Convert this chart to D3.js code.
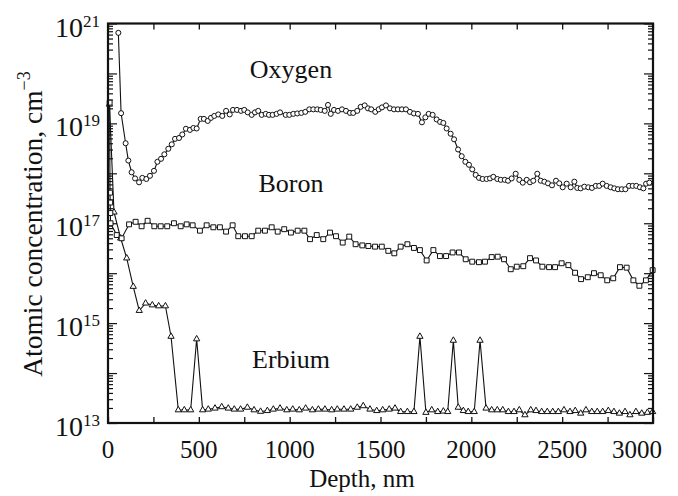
<!DOCTYPE html>
<html>
<head>
<meta charset="utf-8">
<script src="https://cdn.jsdelivr.net/npm/d3@7"></script>
<style>
  body { margin: 0; background: #fff; }
  text { font-family: "Liberation Serif", "Times New Roman", serif; fill: #111; }
</style>
</head>
<body>
<svg id="chart" width="678" height="496"></svg>
<script>
// depth (nm), concentration (cm^-3)
const oxygen = [
  [57, 6.5e20], [72, 1.6e19], [97, 4.0e18], [112, 1.8e18], [130, 1.05e18], [149, 7.9e17],
  [171, 6.6e17], [189, 8.1e17], [211, 7.7e17], [231, 8.9e17], [253, 1.12e18], [272, 1.7e18],
  [292, 1.95e18], [310, 2.4e18], [332, 3.1e18], [351, 3.8e18], [369, 4.9e18], [391, 5.1e18],
  [409, 6.0e18], [429, 7.8e18], [451, 7.4e18], [470, 8.1e18], [488, 7.9e18], [510, 1.23e19],
  [528, 1.23e19], [549, 1.12e19], [567, 1.29e19], [585, 1.41e19], [607, 1.51e19], [629, 1.41e19],
  [650, 1.78e19], [670, 1.51e19], [688, 1.86e19], [710, 1.86e19], [732, 1.78e19], [750, 1.86e19],
  [769, 1.66e19], [791, 1.48e19], [809, 1.66e19], [827, 1.78e19], [846, 1.48e19], [868, 1.55e19],
  [886, 1.48e19], [906, 1.48e19], [928, 1.55e19], [947, 1.66e19], [978, 1.48e19], [998, 1.48e19],
  [1020, 1.55e19], [1042, 1.58e19], [1064, 1.62e19], [1086, 1.7e19], [1108, 1.91e19], [1130, 1.91e19],
  [1152, 1.91e19], [1171, 1.86e19], [1193, 1.78e19], [1211, 2.34e19], [1226, 1.55e19], [1244, 1.86e19],
  [1266, 1.78e19], [1288, 1.91e19], [1310, 1.78e19], [1332, 1.62e19], [1350, 1.62e19], [1372, 1.78e19],
  [1391, 2.14e19], [1413, 2.29e19], [1431, 2.0e19], [1449, 1.91e19], [1471, 1.7e19], [1490, 1.91e19],
  [1508, 2.09e19], [1530, 2.29e19], [1552, 2.0e19], [1574, 1.91e19], [1596, 1.91e19], [1618, 1.91e19],
  [1640, 1.91e19], [1662, 1.7e19], [1684, 1.58e19], [1706, 1.55e19], [1728, 1.05e19], [1747, 1.32e19],
  [1765, 1.55e19], [1787, 1.48e19], [1809, 1.2e19], [1828, 1.07e19], [1846, 1.02e19], [1864, 7.9e18],
  [1886, 6.2e18], [1905, 4.8e18], [1927, 3.0e18], [1947, 2.2e18], [1967, 1.7e18], [1987, 1.48e18],
  [2005, 1.2e18], [2024, 9.3e17], [2042, 8.1e17], [2062, 7.7e17], [2084, 7.7e17], [2103, 7.9e17],
  [2121, 8.5e17], [2143, 7.7e17], [2162, 7.4e17], [2184, 7.4e17], [2202, 7.1e17], [2222, 7.9e17],
  [2244, 9.8e17], [2264, 7.4e17], [2283, 6.5e17], [2305, 7.4e17], [2323, 6.6e17], [2341, 7.1e17],
  [2363, 9.8e17], [2382, 7.1e17], [2402, 6.8e17], [2422, 6.3e17], [2444, 5.75e17], [2466, 7.1e17],
  [2484, 6.3e17], [2503, 5.25e17], [2525, 6.2e17], [2547, 5.25e17], [2567, 6.8e17], [2583, 5.1e17],
  [2602, 5.0e17], [2622, 5.4e17], [2644, 5.25e17], [2664, 5.1e17], [2685, 5.6e17], [2704, 5.6e17],
  [2723, 6.2e17], [2745, 5.6e17], [2767, 5.25e17], [2787, 5.0e17], [2807, 4.8e17], [2828, 4.8e17],
  [2848, 4.8e17], [2868, 5.6e17], [2888, 5.6e17], [2908, 5.6e17], [2928, 5.25e17], [2947, 5.0e17],
  [2962, 6.2e17], [2980, 6.5e17]
];

const boron = [
  [9, 2.6e19], [11, 4.1e17], [12, 2.6e17], [13, 1.6e17], [14, 1.0e17], [48, 5.8e16],
  [75, 5.0e16], [116, 9.5e16], [152, 1.07e17], [185, 8.7e16], [218, 1.12e17], [255, 8.7e16],
  [290, 8.7e16], [326, 8.7e16], [363, 1.0e17], [400, 8.7e16], [433, 9.5e16], [466, 9.1e16],
  [506, 7.1e16], [543, 9.1e16], [580, 8.3e16], [616, 8.3e16], [650, 6.8e16], [686, 9.1e16],
  [717, 5.5e16], [754, 5.5e16], [791, 5.5e16], [827, 7.1e16], [864, 7.1e16], [901, 8.3e16],
  [934, 6.8e16], [970, 7.6e16], [1007, 6.5e16], [1044, 7.1e16], [1081, 7.1e16], [1112, 4.8e16],
  [1149, 5.8e16], [1185, 4.8e16], [1222, 6.5e16], [1255, 5.5e16], [1292, 4.1e16], [1328, 5.4e16],
  [1363, 3.8e16], [1400, 3.6e16], [1433, 3.5e16], [1470, 3.4e16], [1507, 3.4e16], [1543, 2.8e16],
  [1576, 2.5e16], [1611, 3.4e16], [1648, 3.8e16], [1684, 3.2e16], [1717, 2.9e16], [1754, 1.8e16],
  [1791, 2.9e16], [1827, 2.2e16], [1861, 2.2e16], [1897, 2.6e16], [1932, 2.6e16], [1969, 1.9e16],
  [2005, 1.7e16], [2042, 1.66e16], [2075, 1.7e16], [2112, 2.1e16], [2145, 2.14e16], [2180, 1.9e16],
  [2217, 1.2e16], [2250, 1.35e16], [2286, 1.38e16], [2323, 2.0e16], [2356, 1.8e16], [2391, 1.35e16],
  [2428, 1.32e16], [2461, 1.32e16], [2497, 1.58e16], [2534, 1.45e16], [2571, 1.02e16], [2604, 7.6e15],
  [2641, 8.3e15], [2675, 1.0e16], [2712, 9.1e15], [2748, 7.2e15], [2781, 7.9e15], [2818, 1.32e16],
  [2855, 1.29e16], [2892, 7.2e15], [2925, 5.6e15], [2961, 7.2e15], [2998, 1.15e16]
];

const erbium = [
  [8, 2.4e19], [33, 1.66e17], [70, 5.0e16], [103, 2.0e16], [139, 5.4e15], [172, 1.78e15],
  [207, 2.5e15], [244, 2.3e15], [279, 2.2e15], [316, 2.2e15], [347, 5.4e14], [387, 1.82e13],
  [420, 1.82e13], [455, 1.82e13], [488, 4.8e14], [521, 1.82e13], [552, 1.88e13], [589, 1.97e13],
  [626, 2.1e13], [662, 1.97e13], [695, 1.88e13], [730, 1.88e13], [767, 2.05e13], [804, 1.82e13],
  [840, 1.7e13], [877, 1.76e13], [910, 1.88e13], [947, 1.97e13], [984, 1.82e13], [1017, 1.88e13],
  [1053, 1.82e13], [1088, 1.97e13], [1125, 1.82e13], [1158, 1.88e13], [1194, 1.88e13], [1231, 1.82e13],
  [1262, 1.88e13], [1299, 1.88e13], [1336, 1.88e13], [1372, 2.05e13], [1405, 2.2e13], [1442, 1.88e13],
  [1479, 1.76e13], [1512, 1.82e13], [1548, 1.88e13], [1580, 1.97e13], [1611, 1.68e13], [1648, 1.68e13],
  [1684, 1.68e13], [1717, 5.4e14], [1750, 1.62e13], [1782, 1.82e13], [1815, 1.68e13], [1846, 1.72e13],
  [1870, 1.68e13], [1901, 4.5e14], [1928, 2.05e13], [1956, 1.76e13], [1983, 1.68e13], [2016, 1.68e13],
  [2048, 4.5e14], [2081, 1.97e13], [2112, 1.82e13], [2143, 1.82e13], [2173, 1.82e13], [2204, 1.68e13],
  [2235, 1.68e13], [2264, 1.82e13], [2295, 1.45e13], [2327, 1.82e13], [2356, 1.76e13], [2387, 1.68e13],
  [2418, 1.68e13], [2448, 1.68e13], [2479, 1.68e13], [2510, 1.82e13], [2543, 1.68e13], [2572, 1.76e13],
  [2602, 1.56e13], [2631, 1.82e13], [2663, 1.68e13], [2693, 1.68e13], [2723, 1.68e13], [2754, 1.76e13],
  [2785, 1.68e13], [2815, 1.56e13], [2846, 1.68e13], [2873, 1.45e13], [2906, 1.68e13], [2938, 1.56e13],
  [2969, 1.62e13], [2998, 1.68e13]
];

const xTicks = [0, 250, 500, 750, 1000, 1250, 1500, 1750, 2000, 2250, 2500, 2750, 3000];
const xLabels = [0, 500, 1000, 1500, 2000, 2500, 3000];
const yLabelExps = [13, 15, 17, 19, 21];
// label text and the concentration level of its baseline
const seriesLabels = [
  { text: "Oxygen", conc: 8.1e19 },
  { text: "Boron", conc: 4.3e17 },
  { text: "Erbium", conc: 1.25e14 }
];

const svg = d3.select("#chart");
const plotLeft = 108, plotRight = 653, plotTop = 23.5, plotBottom = 423;

const x = d3.scaleLinear().domain([0, 3000]).range([plotLeft, plotRight]);
const y = d3.scaleLog().domain([1e13, 1e21]).range([plotBottom, plotTop]);

// log ticks: every 1..9 x 10^n
const yTicks = [];
for (let e = 13; e < 21; e++) for (let m = 1; m < 10; m++) yTicks.push(m * Math.pow(10, e));
yTicks.push(1e21);
const isDecade = (v) => Math.abs(Math.log10(v) - Math.round(Math.log10(v))) < 1e-9;

// ticks on all four sides, pointing inward
svg.append("g")
  .attr("transform", `translate(0,${plotBottom})`)
  .call(d3.axisBottom(x).tickValues(xTicks).tickSizeInner(-6).tickSizeOuter(0).tickFormat(""))
  .call((g) => g.select(".domain").remove())
  .call((g) => g.selectAll("line").attr("stroke", "#111").attr("stroke-width", 1.3));

svg.append("g")
  .attr("transform", `translate(0,${plotTop})`)
  .call(d3.axisTop(x).tickValues(xTicks).tickSizeInner(-6).tickSizeOuter(0).tickFormat(""))
  .call((g) => g.select(".domain").remove())
  .call((g) => g.selectAll("line").attr("stroke", "#111").attr("stroke-width", 1.3));

svg.append("g")
  .attr("transform", `translate(${plotLeft},0)`)
  .call(d3.axisLeft(y).tickValues(yTicks).tickSizeInner(-5).tickSizeOuter(0).tickFormat(""))
  .call((g) => g.select(".domain").remove())
  .call((g) => g.selectAll(".tick line").attr("x2", (d) => (isDecade(d) ? 9 : 5)).attr("stroke", "#111").attr("stroke-width", 1.2));

svg.append("g")
  .attr("transform", `translate(${plotRight},0)`)
  .call(d3.axisRight(y).tickValues(yTicks).tickSizeInner(-5).tickSizeOuter(0).tickFormat(""))
  .call((g) => g.select(".domain").remove())
  .call((g) => g.selectAll(".tick line").attr("x2", (d) => (isDecade(d) ? -9 : -5)).attr("stroke", "#111").attr("stroke-width", 1.2));

// x tick labels
svg.append("g")
  .selectAll("text")
  .data(xLabels)
  .join("text")
  .attr("x", (d) => x(d) + (d === 3000 ? -16 : 0))
  .attr("y", plotBottom + 35)
  .attr("text-anchor", "middle")
  .style("font-size", "25px")
  .text((d) => d);

// y tick labels 10^n
svg.append("g")
  .selectAll("text")
  .data(yLabelExps)
  .join("text")
  .attr("x", 100)
  .attr("y", (e) => y(Math.pow(10, e)) + 13)
  .attr("text-anchor", "end")
  .each(function (e) {
    const t = d3.select(this);
    t.append("tspan").style("font-size", "28px").text("10");
    t.append("tspan").attr("dy", -10).style("font-size", "17px").text(e);
  });

// axis titles
svg.append("text")
  .attr("x", 362)
  .attr("y", 487)
  .attr("text-anchor", "middle")
  .style("font-size", "25px")
  .text("Depth, nm");

const yTitle = svg.append("text")
  .attr("transform", "translate(42,224) rotate(-90)")
  .attr("text-anchor", "middle")
  .style("font-size", "27.5px");
yTitle.append("tspan").text("Atomic concentration, cm");
yTitle.append("tspan").attr("dy", -12).style("font-size", "18px").text("\u22123");

// series
const line = d3.line().x((d) => x(d[0])).y((d) => y(d[1]));
const plot = svg.append("g");

function drawSeries(data, shape) {
  plot.append("path")
    .datum(data)
    .attr("d", line)
    .attr("fill", "none")
    .attr("stroke", "#111")
    .attr("stroke-width", 1.1);
  const sym = d3.symbol().type(shape === "circle" ? d3.symbolCircle : shape === "square" ? d3.symbolSquare : d3.symbolTriangle)
    .size(shape === "circle" ? 20 : shape === "square" ? 24 : 17);
  plot.append("g")
    .selectAll("path")
    .data(data)
    .join("path")
    .attr("transform", (d) => `translate(${x(d[0])},${y(d[1])})`)
    .attr("d", sym)
    .attr("fill", "#fff")
    .attr("stroke", "#111")
    .attr("stroke-width", 1);
}

drawSeries(erbium, "triangle");
drawSeries(boron, "square");
drawSeries(oxygen, "circle");

// frame
svg.append("rect")
  .attr("x", plotLeft)
  .attr("y", plotTop)
  .attr("width", plotRight - plotLeft)
  .attr("height", plotBottom - plotTop)
  .attr("fill", "none")
  .attr("stroke", "#111")
  .attr("stroke-width", 2.2);

// series labels
svg.append("g")
  .selectAll("text")
  .data(seriesLabels)
  .join("text")
  .attr("x", 291)
  .attr("y", (d) => y(d.conc))
  .attr("text-anchor", "middle")
  .style("font-size", "26px")
  .text((d) => d.text);
</script>
</body>
</html>
